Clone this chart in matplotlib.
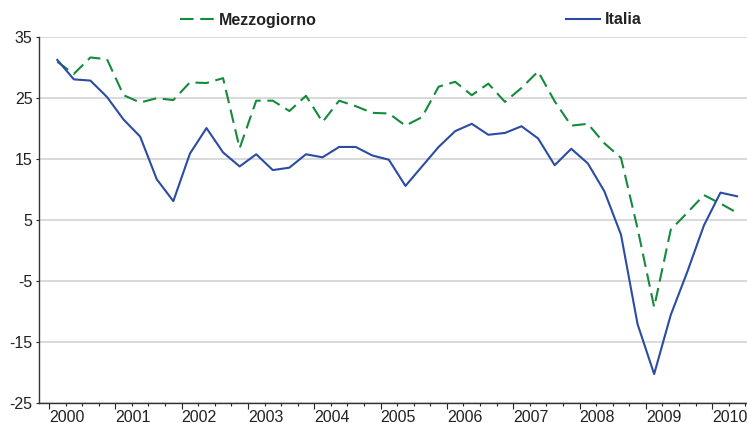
import matplotlib
matplotlib.use("Agg")
import matplotlib.pyplot as plt
import numpy as np

# quarterly series, 2000 Q1 - 2010 Q2
years = [str(y) for y in range(2000, 2011)]
mezzogiorno = [31.0, 29.0, 31.7, 31.4, 25.5, 24.3, 25.0, 24.7,
               27.6, 27.5, 28.3, 16.8, 24.6, 24.6, 22.9, 25.4,
               21.1, 24.6, 23.7, 22.6, 22.5, 20.5, 21.9, 26.9,
               27.7, 25.5, 27.4, 24.4, 26.7, 29.4, 24.5, 20.5,
               20.8, 17.6, 15.2, 3.6, -9.3, 3.4, 6.2, 9.1,
               7.7, 6.2]
italia = [31.3, 28.1, 27.9, 25.2, 21.5, 18.7, 11.7, 8.1,
          15.9, 20.1, 16.1, 13.8, 15.8, 13.2, 13.6, 15.8,
          15.3, 17.0, 17.0, 15.6, 14.9, 10.6, 13.8, 17.0,
          19.6, 20.8, 19.0, 19.3, 20.4, 18.4, 14.0, 16.7,
          14.3, 9.7, 2.6, -12.1, -20.3, -10.6, -3.5, 4.1,
          9.5, 8.9]

plt.rcParams['font.family'] = ['Liberation Sans', 'DejaVu Sans']
plt.rcParams['axes.unicode_minus'] = False

fig = plt.figure(figsize=(7.47, 4.23), dpi=100)
ax = fig.add_axes([0.0518, 0.048, 0.9482, 0.8637])

x = np.arange(len(italia)) + 0.5
ax.plot(x, mezzogiorno, color='#148a3c', lw=1.5, ls=(0, (6.5, 3.2)),
        label='Mezzogiorno')
ax.plot(x, italia, color='#2b4ca3', lw=1.5, label='Italia')

ax.set_ylim(-25, 35)
ax.set_yticks(np.arange(-25, 36, 10))
ax.set_xlim(-0.62, 42.1)
ax.set_xticks(np.arange(0, 41, 4))
ax.set_xticks(np.arange(0, 43, 1), minor=True)
ax.set_xticklabels(years, ha='left')

ax.grid(axis='y', color='#cfcfcf', lw=1.1)
ax.set_axisbelow(True)
for s in ['top', 'right']:
    ax.spines[s].set_visible(False)
for s in ['left', 'bottom']:
    ax.spines[s].set_color('#333333')
    ax.spines[s].set_linewidth(1.0)

ax.tick_params(axis='y', length=2.5, width=0.8, pad=2, labelsize=11.5,
               colors='#222222')
ax.tick_params(axis='x', which='major', length=4.5, width=0.8, pad=0.5,
               labelsize=11.5, colors='#222222')
ax.tick_params(axis='x', which='minor', length=2.2, width=0.8,
               colors='#222222')

leg = ax.legend(loc='center left', bbox_to_anchor=(180 / 747, 1 - 20 / 423),
                bbox_transform=fig.transFigure, ncol=2, frameon=False,
                borderpad=0, borderaxespad=0, handlelength=2.1,
                handletextpad=0.35, columnspacing=15.6,
                prop={'weight': 'bold', 'size': 11.5})
for t in leg.get_texts():
    t.set_color('#222222')

fig.savefig('out.png', dpi=100)
